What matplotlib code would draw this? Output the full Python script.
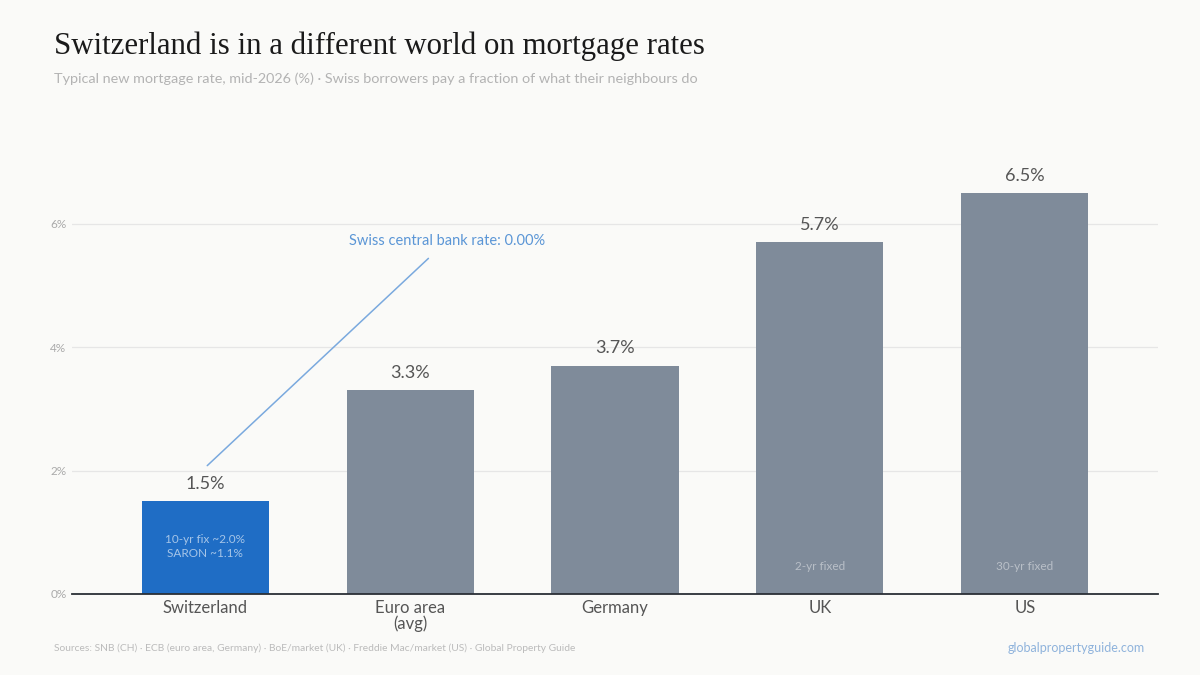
import matplotlib.pyplot as plt

countries = ['Switzerland', 'Euro area\n(avg)', 'Germany', 'UK', 'US']
rates = [1.5, 3.3, 3.7, 5.7, 6.5]
inner_notes = ['10-yr fix ~2.0%\nSARON ~1.1%', '', '', '2-yr fixed', '30-yr fixed']
yticks = [0, 2, 4, 6]

bg = '#fafaf8'
grey_bar = '#7f8b9a'
swiss_blue = '#1f6dc5'

fig = plt.figure(figsize=(12, 6.75), dpi=100, facecolor=bg)
ax = fig.add_axes([0.06, 0.12, 0.905, 0.64])
ax.set_facecolor(bg)

colors = [swiss_blue] + [grey_bar] * (len(rates) - 1)
x = list(range(len(rates)))
ax.bar(x, rates, width=0.62, color=colors, zorder=3)

for i, r in enumerate(rates):
    ax.text(i, r + 0.15, f'{r:.1f}%', ha='center', va='bottom',
            fontsize=13, color='#555555', family='Lato')

# notes inside the bars
ax.text(0, 0.77, inner_notes[0], ha='center', va='center', fontsize=8.5,
        color='white', alpha=0.6, family='Lato', linespacing=1.3, zorder=4)
for i in (3, 4):
    ax.text(i, 0.45, inner_notes[i], ha='center', va='center', fontsize=8.5,
            color='white', alpha=0.45, family='Lato', zorder=4)

# annotation
ax.annotate('Swiss central bank rate: 0.00%', xy=(0.01, 2.08), xytext=(1.18, 5.72),
            ha='center', va='center', fontsize=10.5, color='#5b96d6', family='Lato',
            arrowprops=dict(arrowstyle='-', color='#7aa9de', lw=1.1,
                            shrinkA=8, shrinkB=0))

ax.set_xlim(-0.65, 4.65)
ax.set_ylim(0, 7.0)
ax.set_yticks(yticks)
ax.set_yticklabels([f'{t}%' for t in yticks], fontsize=8.5, color='#aaaaaa', family='Lato')
ax.set_xticks(x)
ax.set_xticklabels(countries, fontsize=12, color='#555555', family='Lato', linespacing=1.0)
ax.tick_params(axis='both', length=0)
ax.tick_params(axis='x', pad=4)
ax.tick_params(axis='y', pad=4)
ax.grid(axis='y', color='#e6e6e6', lw=0.9, zorder=0)
for s in ['top', 'right', 'left']:
    ax.spines[s].set_visible(False)
ax.spines['bottom'].set_color('#2a2f36')
ax.spines['bottom'].set_linewidth(1.3)
ax.spines['bottom'].set_zorder(5)

fig.text(0.045, 0.931, 'Switzerland is in a different world on mortgage rates',
         fontsize=22.2, color='#1a1a1a', family='Liberation Serif', va='center')
fig.text(0.045, 0.884, 'Typical new mortgage rate, mid-2026 (%) · Swiss borrowers pay a fraction of what their neighbours do',
         fontsize=10.4, color='#b3b3b3', family='Lato', va='center')
fig.text(0.045, 0.04, 'Sources: SNB (CH) · ECB (euro area, Germany) · BoE/market (UK) · Freddie Mac/market (US) · Global Property Guide',
         fontsize=7.4, color='#bbbbbb', family='Lato', va='center')
fig.text(0.954, 0.04, 'globalpropertyguide.com', fontsize=9, color='#8fb3dc',
         family='Lato', va='center', ha='right')

fig.savefig('out.png', dpi=100, facecolor=bg)
